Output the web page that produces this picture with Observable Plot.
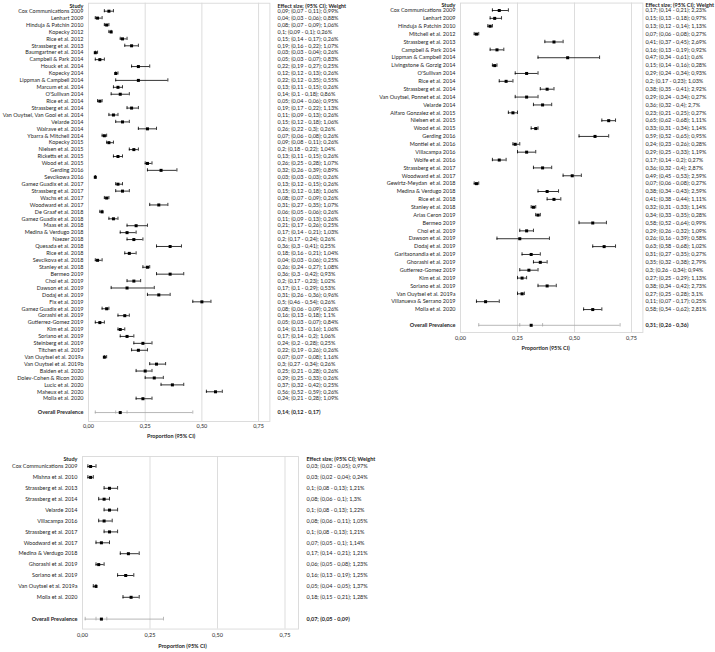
<!DOCTYPE html>
<html>
<head>
<meta charset="utf-8">
<script src="https://cdn.jsdelivr.net/npm/d3@7"></script>
<script src="https://cdn.jsdelivr.net/npm/@observablehq/plot@0.6"></script>
<style>
  html, body { margin: 0; padding: 0; background: #fff; }
  #root { position: relative; width: 715px; height: 652px; overflow: hidden; background: #fff; }
  #root svg { position: absolute; overflow: visible; }
</style>
</head>
<body>
<div id="root"></div>
<script>
// ---------- Panel A (top-left) ----------
const studiesA = ["Cox Communications 2009","Lenhart 2009","Hinduja & Patchin 2010","Kopecky 2012","Rice et al. 2012","Strassberg et al. 2013","Baumgartner et al. 2014","Campbell & Park 2014","Houck et al. 2014","Kopecky 2014","Lippman & Campbell 2014","Marcum et al. 2014","O'Sullivan 2014","Rice et al. 2014","Strassberg et al. 2014","Van Ouytsel, Van Gool et al. 2014","Velarde 2014","Walrave et al. 2014","Ybarra & Mitchell 2014","Kopecky 2015","Nielsen et al. 2015","Ricketts et al. 2015","Wood et al. 2015","Gerding 2016","Sevcikowa 2016","Gamez Guadix et al. 2017","Strassberg et al. 2017","Wachs et al. 2017","Woodward et al. 2017","De Graaf et al. 2018","Gamez Guadix et al. 2018","Maas et al. 2018","Medina & Verdugo 2018","Naezer 2018","Quesada et al. 2018","Rice et al. 2018","Sevcikova et al. 2018","Stanley et al. 2018","Bermeo 2019","Choi et al. 2019","Dawson et al. 2019","Dodaj et al. 2019","Fix et al. 2019","Gamez Guadix et al. 2019","Gorashi et al. 2019","Gutierrez-Gomez 2019","Kim et al. 2019","Soriano et al. 2019","Steinberg et al. 2019","Titchen et al. 2019","Van Ouytsel et al. 2019a","Van Ouytsel et al. 2019b","Baiden et al. 2020","Dolev-Cohen & Ricon 2020","Lucic et al. 2020","Maheux et al. 2020","Molla et al. 2020"];
const estA = [0.09,0.04,0.08,0.1,0.15,0.19,0.03,0.05,0.22,0.12, 0.22,0.13,0.14,0.05,0.19,0.11,0.15,0.26,0.07,0.09, 0.2,0.13,0.26,0.32,0.03,0.13,0.15,0.08,0.31,0.06, 0.11,0.21,0.17,0.2,0.36,0.18,0.04,0.26,0.36,0.2, 0.17,0.31,0.5,0.08,0.16,0.05,0.14,0.17,0.24,0.22, 0.07,0.3,0.25,0.29,0.37,0.56,0.24];
const loA  = [0.07,0.03,0.07,0.09,0.14,0.16,0.03,0.03,0.19,0.12, 0.12,0.11,0.1,0.04,0.17,0.09,0.12,0.22,0.06,0.08, 0.18,0.11,0.25,0.26,0.03,0.12,0.12,0.07,0.27,0.05, 0.09,0.17,0.14,0.17,0.3,0.16,0.03,0.24,0.3,0.17, 0.1,0.26,0.46,0.06,0.13,0.03,0.13,0.14,0.2,0.19, 0.07,0.27,0.21,0.25,0.32,0.52,0.21];
const hiA  = [0.11,0.06,0.09,0.1,0.17,0.22,0.04,0.07,0.27,0.13, 0.35,0.15,0.18,0.06,0.22,0.13,0.18,0.3,0.08,0.11, 0.22,0.15,0.28,0.39,0.03,0.15,0.18,0.09,0.35,0.06, 0.13,0.26,0.21,0.24,0.41,0.21,0.06,0.27,0.42,0.23, 0.29,0.36,0.54,0.09,0.18,0.07,0.16,0.2,0.28,0.26, 0.08,0.34,0.28,0.33,0.42,0.59,0.28];
const weightA = [0.99,0.88,1.06,0.26,0.26,1.07,0.26,0.83,0.25,0.26, 0.55,0.26,0.86,0.95,1.13,0.26,1.06,0.26,0.26,0.26, 1.04,0.26,1.07,0.89,0.26,0.26,1.06,0.26,1.07,0.26, 0.26,0.25,1.03,0.26,0.25,1.04,0.25,1.08,0.93,1.02, 0.53,0.96,0.26,0.26,1.1,0.84,1.06,1.06,0.25,0.26, 1.16,0.26,0.26,0.26,0.25,0.26,1.09];
// overall: estimate, CI low, CI high, prediction low, prediction high
const overallA = [0.14, 0.12, 0.17, 0.03, 0.46];

// ---------- Panel B (top-right) ----------
const studiesB = ["Cox Communications 2009","Lenhart 2009","Hinduja & Patchin 2010","Mitchell et al. 2012","Strassberg et al. 2013","Campbell & Park 2014","Lippman & Campbell 2014","Livingstone & Gorzig 2014","O'Sullivan 2014","Rice et al. 2014","Strassberg et al. 2014","Van Ouytsel, Ponnet et al. 2014","Velarde 2014","Alfaro Gonzalez et al. 2015","Nielsen et al. 2015","Wood et al. 2015","Gerding 2016","Montiel et al. 2016","Villacampa 2016","Wolfe et al. 2016","Strassberg et al. 2017","Woodward et al. 2017","Gewirtz-Meydan  et al. 2018","Medina & Verdugo 2018","Rice et al. 2018","Stanley et al. 2018","Arias Ceron 2019","Bermeo 2019","Choi et al. 2019","Dawson et al. 2019","Dodaj et al. 2019","Garitaonandia et al. 2019","Ghorashi et al. 2019","Gutierrez-Gomez 2019","Kim et al. 2019","Soriano et al. 2019","Van Ouytsel et al. 2019a","Villanueva & Serrano 2019","Molla et al. 2020"];
const estB = [0.17,0.15,0.13,0.07,0.41,0.16,0.47,0.15,0.29,0.2, 0.38,0.29,0.36,0.23,0.65,0.33,0.59,0.24,0.29,0.17, 0.36,0.49,0.07,0.38,0.41,0.32,0.34,0.58,0.29,0.26, 0.63,0.31,0.35,0.3,0.27,0.38,0.27,0.11,0.58];
const loB  = [0.14,0.13,0.12,0.06,0.37,0.13,0.34,0.14,0.24,0.17, 0.35,0.24,0.32,0.21,0.62,0.31,0.52,0.23,0.25,0.14, 0.32,0.45,0.06,0.34,0.38,0.31,0.33,0.52,0.26,0.16, 0.58,0.27,0.32,0.26,0.25,0.34,0.25,0.07,0.54];
const hiB  = [0.21,0.18,0.14,0.08,0.45,0.19,0.61,0.16,0.34,0.23, 0.41,0.34,0.4,0.25,0.68,0.34,0.65,0.26,0.33,0.2, 0.4,0.53,0.08,0.43,0.44,0.33,0.35,0.64,0.32,0.39, 0.68,0.35,0.38,0.34,0.29,0.42,0.28,0.17,0.62];
const weightB = [2.23,0.97,1.13,0.27,2.69,0.92,0.6,0.28,0.93,1.03, 2.92,0.27,2.7,0.27,1.11,1.14,0.95,0.28,1.19,0.27, 2.87,2.59,0.27,2.59,1.11,1.14,0.28,0.99,1.09,0.58, 1.02,0.27,2.79,0.94,1.13,2.73,3.1,0.25,2.81];
const overallB = [0.31, 0.26, 0.36, 0.08, 0.70];

// ---------- Panel C (bottom-left) ----------
const studiesC = ["Cox Communications 2009","Mishna et al. 2010","Strassberg et al. 2013","Strassberg et al. 2014","Velarde 2014","Villacampa 2016","Strassberg et al. 2017","Woodward et al. 2017","Medina & Verdugo 2018","Ghorashi et al. 2019","Soriano et al. 2019","Van Ouytsel et al. 2019a","Molla et al. 2020"];
const estC = [0.03,0.03,0.1,0.08,0.1,0.08,0.1,0.07,0.17,0.06,0.16,0.05,0.18];
const loC  = [0.02,0.02,0.08,0.06,0.08,0.06,0.08,0.05,0.14,0.05,0.13,0.04,0.15];
const hiC  = [0.05,0.04,0.13,0.1,0.13,0.11,0.13,0.1,0.21,0.08,0.19,0.05,0.21];
const weightC = [0.97,0.24,1.21,1.3,1.22,1.05,1.21,1.14,1.21,1.23,1.25,1.37,1.28];
const overallC = [0.07, 0.05, 0.09, 0.01, 0.30];

// ---------- shared text / ticks ----------
const xTicks = [0, 0.25, 0.5, 0.75];
const gridTicks = [0.25, 0.5, 0.75];
const xDomain = [0, 0.8];
const overallLabel = "Overall Prevalence";
const studyHeader = "Study";
const effectHeader = "Effect size; (95% CI); Weight";
const axisTitle = "Proportion (95% CI)";

const fmt = v => String(v).replace(".", ",");
const tickFmt = d => d.toFixed(2).replace(".", ",");

function forest(p) {
  const rows = p.studies.map((s, i) => ({study: s, est: p.est[i], lo: p.lo[i], hi: p.hi[i], w: p.w[i]}));
  const [oe, olo, ohi, pilo, pihi] = p.overall;
  const ov = [{study: overallLabel, est: oe, lo: olo, hi: ohi, piLo: pilo, piHi: pihi}];
  const domain = [...p.studies, " ", overallLabel];
  const plotH = domain.length * p.step;
  const height = p.marginTop + plotH + p.marginBottom;
  const cap = (p.step - p.capH) / 2;
  const grey = "#d9d9d9";
  const txt = "#1e1e1e";
  const svg = Plot.plot({
    width: p.width,
    height,
    marginLeft: p.marginLeft,
    marginRight: p.width - p.marginLeft - p.xSpan,
    marginTop: p.marginTop,
    marginBottom: p.marginBottom,
    x: {domain: xDomain, axis: null},
    y: {type: "band", domain, padding: 0, round: false, axis: null},
    style: {fontFamily: "Lato, 'Open Sans', sans-serif", fontSize: p.fontSize + "px", color: txt, background: "transparent", overflow: "visible"},
    marks: [
      Plot.ruleX(gridTicks, {stroke: grey, strokeWidth: 0.9, insetTop: p.fTop, insetBottom: p.fBottom}),
      Plot.frame({stroke: grey, strokeWidth: 0.9, insetTop: p.fTop, insetBottom: p.fBottom}),
      Plot.axisX(xTicks, {tickSize: 0, tickPadding: p.tickPad, tickFormat: tickFmt, label: null, fill: txt}),
      Plot.text([axisTitle], {text: d => d, frameAnchor: "bottom", dy: p.titleDy, dx: p.titleDx, fontWeight: "bold", fill: txt}),
      // study rows
      Plot.ruleY(rows, {y: "study", x1: "lo", x2: "hi", stroke: "#000", strokeWidth: 0.8}),
      Plot.tickX(rows, {y: "study", x: "lo", stroke: "#000", strokeWidth: 0.8, insetTop: cap, insetBottom: cap}),
      Plot.tickX(rows, {y: "study", x: "hi", stroke: "#000", strokeWidth: 0.8, insetTop: cap, insetBottom: cap}),
      Plot.dot(rows, {y: "study", x: "est", symbol: "square", r: p.r, fill: "#000", stroke: null}),
      // overall row
      Plot.ruleY(ov, {y: "study", x1: "piLo", x2: "piHi", stroke: "#a6a6a6", strokeWidth: 0.8}),
      Plot.tickX(ov, {y: "study", x: "piLo", stroke: "#a6a6a6", strokeWidth: 0.8, insetTop: cap, insetBottom: cap}),
      Plot.tickX(ov, {y: "study", x: "piHi", stroke: "#a6a6a6", strokeWidth: 0.8, insetTop: cap, insetBottom: cap}),
      Plot.tickX(ov, {y: "study", x: "lo", stroke: "#a6a6a6", strokeWidth: 0.8, insetTop: cap, insetBottom: cap}),
      Plot.tickX(ov, {y: "study", x: "hi", stroke: "#a6a6a6", strokeWidth: 0.8, insetTop: cap, insetBottom: cap}),
      Plot.dot(ov, {y: "study", x: "est", symbol: "square", r: p.r, fill: "#000", stroke: null}),
      // labels
      Plot.text(rows, {y: "study", text: "study", frameAnchor: "left", dx: -p.labelGap, textAnchor: "end", fill: txt}),
      Plot.text(ov, {y: "study", text: "study", frameAnchor: "left", dx: -p.labelGap, textAnchor: "end", fontWeight: "bold", fill: txt}),
      Plot.text(rows, {y: "study", text: d => `${fmt(d.est)}; (${fmt(d.lo)} - ${fmt(d.hi)}); ${fmt(d.w)}%`, frameAnchor: "right", dx: p.textDx, textAnchor: "start", fill: txt}),
      Plot.text(ov, {y: "study", text: d => `${fmt(d.est)}; (${fmt(d.lo)} - ${fmt(d.hi)})`, frameAnchor: "right", dx: p.textDx, textAnchor: "start", fontWeight: "bold", fill: txt}),
      Plot.text([studyHeader], {text: d => d, frameAnchor: "top-left", dx: -p.labelGap, dy: p.headDy, textAnchor: "end", fontWeight: "bold", fill: txt}),
      Plot.text([effectHeader], {text: d => d, frameAnchor: "top-right", dx: p.textDx, dy: p.headDy, textAnchor: "start", fontWeight: "bold", fill: txt})
    ]
  });
  svg.style.left = p.left + "px";
  svg.style.top = p.top + "px";
  return svg;
}

const root = document.getElementById("root");
root.appendChild(forest({
  studies: studiesA, est: estA, lo: loA, hi: hiA, w: weightA, overall: overallA,
  left: 0, top: 0, width: 357, marginLeft: 88, xSpan: 181.4,
  marginTop: 7.24, step: 6.92, marginBottom: 29.5,
  fTop: -4.5, fBottom: -5.5, tickPad: 8.5, titleDy: 21.5, titleDx: -8,
  capH: 3.2, r: 1.7, labelGap: 5, textDx: 7.6, headDy: -3.9, fontSize: 5.5
}));
root.appendChild(forest({
  studies: studiesB, est: estB, lo: loB, hi: hiB, w: weightB, overall: overallB,
  left: 360, top: 0, width: 355, marginLeft: 100, xSpan: 182.4,
  marginTop: 6.07, step: 7.87, marginBottom: 26,
  fTop: -3.5, fBottom: -3.3, tickPad: 7.3, titleDy: 20.3, titleDx: -6,
  capH: 3.4, r: 1.7, labelGap: 5, textDx: 2.5, headDy: -3.6, fontSize: 5.5
}));
root.appendChild(forest({
  studies: studiesC, est: estC, lo: loC, hi: hiC, w: weightC, overall: overallC,
  left: 0, top: 450, width: 420, marginLeft: 82, xSpan: 216,
  marginTop: 10.55, step: 10.9, marginBottom: 27.95,
  fTop: -4.5, fBottom: -4.5, tickPad: 9, titleDy: 23.5, titleDx: -8,
  capH: 3.6, r: 1.7, labelGap: 5, textDx: 8, headDy: -3.8, fontSize: 5.5
}));
</script>
</body>
</html>
